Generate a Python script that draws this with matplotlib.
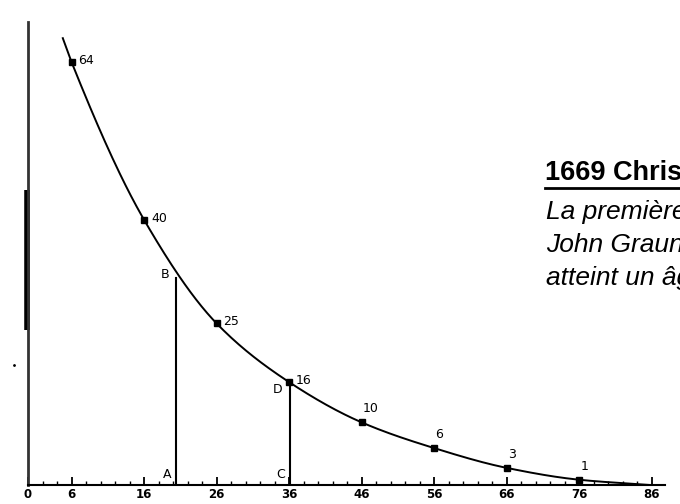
import matplotlib.pyplot as plt
import numpy as np

# Huygens' 1669 survival curve (drawn after Graunt's table)
ages = [6, 16, 26, 36, 46, 56, 66, 76]
labels = ['64', '40', '25', '16', '10', '6', '3', '1']
heights = [64.1, 40.2, 24.5, 15.6, 9.5, 5.6, 2.6, 0.8]   # as drawn on the scan

# curve runs a bit past the marked points at both ends
curve_ages = [4.8] + ages + [85.8]
curve_heights = [67.7] + heights + [0.0]

tick_ages = [0, 6, 16, 26, 36, 46, 56, 66, 76, 86]
tick_labels = ['0', '6', '16', '26', '36', '46', '56', '66', '76', '86']

# construction lines A-B and C-D
ab_age, ab_top = 20.4, 31.4
cd_age, cd_top = 36.1, 15.6

title = '1669 Christiaan Huygens'
body = ['La première courbe de survie, d\'après les données de',
        'John Graunt : probabilité qu\'un nouveau-né',
        'atteint un âge donné']


def pchip(x, y, n=40):
  # monotone cubic through the points, no overshoot
  x = np.asarray(x, float)
  y = np.asarray(y, float)
  h = np.diff(x)
  d = np.diff(y)/h
  m = np.zeros_like(y)
  m[0], m[-1] = d[0], d[-1]
  for k in range(1, len(x) - 1):
    if d[k-1]*d[k] > 0:
      w1 = 2*h[k] + h[k-1]
      w2 = h[k] + 2*h[k-1]
      m[k] = (w1 + w2)/(w1/d[k-1] + w2/d[k])
  xs, ys = [], []
  for k in range(len(x) - 1):
    t = np.linspace(0, 1, n)
    h00 = 2*t**3 - 3*t**2 + 1
    h10 = t**3 - 2*t**2 + t
    h01 = -2*t**3 + 3*t**2
    h11 = t**3 - t**2
    xs.append(x[k] + t*h[k])
    ys.append(h00*y[k] + h10*h[k]*m[k] + h01*y[k+1] + h11*h[k]*m[k+1])
  return np.concatenate(xs), np.concatenate(ys)


fig = plt.figure(figsize=(6.8, 5.04), dpi=100)
ax = fig.add_axes([28/680, 19/504, 652/680, 485/504])
ax.set_xlim(0, 652/7.25)
ax.set_ylim(0, 485/6.6)

for s in ['top', 'right']:
  ax.spines[s].set_visible(False)
ax.spines['left'].set_bounds(0, 70.2)
ax.spines['left'].set_linewidth(2)
ax.spines['left'].set_color('#333333')
ax.spines['bottom'].set_bounds(0, 87.9)
ax.spines['bottom'].set_linewidth(1.5)

ax.set_yticks([])
ax.set_xticks(tick_ages)
ax.set_xticklabels(tick_labels, fontsize=8.5, fontweight='bold')
ax.set_xticks(np.arange(0, 88, 2), minor=True)
ax.tick_params(axis='x', which='major', direction='in', length=6, width=1.3, pad=2)
ax.tick_params(axis='x', which='minor', direction='in', length=3, width=1)

# thick stretch on the left axis and a stray dot of the scan
ax.plot([-0.1, -0.1], [23.5, 44.7], color='k', lw=4, clip_on=False, solid_capstyle='butt')
ax.plot([-1.9], [18.2], 'k.', ms=2, clip_on=False)

cx, cy = pchip(curve_ages, curve_heights)
ax.plot(cx, cy, color='k', lw=1.4, clip_on=False)
ax.plot(ages, heights, 's', color='k', ms=4)

for i in range(len(ages)):
  if i < 4:
    ax.annotate(labels[i], (ages[i], heights[i]), xytext=(5, 1), textcoords='offset points',
                fontsize=9, va='center', ha='left')
  else:
    ax.annotate(labels[i], (ages[i], heights[i]), xytext=(1, 5), textcoords='offset points',
                fontsize=9, va='bottom', ha='left')

ax.plot([ab_age, ab_age], [0, ab_top], color='k', lw=1.5)
ax.plot([cd_age, cd_age], [0, cd_top], color='k', lw=1.5)
ax.annotate('A', (ab_age, 0), xytext=(-9, 5), textcoords='offset points', fontsize=9)
ax.annotate('B', (ab_age, ab_top), xytext=(-11, 0), textcoords='offset points', fontsize=9)
ax.annotate('C', (cd_age, 0), xytext=(-10, 5), textcoords='offset points', fontsize=9)
ax.annotate('D', (cd_age, cd_top), xytext=(-12, -8), textcoords='offset points', fontsize=9)

# text block on the right, cut by the edge of the picture
fig.text(545/680, 1 - 180/504, title, fontsize=19.5, fontweight='bold',
         family='Liberation Sans', va='baseline')
fig.add_artist(plt.Line2D([545/680, 1], [1 - 188/504, 1 - 188/504], color='k', lw=2))
for j, line in enumerate(body):
  fig.text(546/680, 1 - (219 + 33*j)/504, line, fontsize=19, style='italic',
           family='Liberation Sans', va='baseline')

fig.savefig('out.png', dpi=100)
